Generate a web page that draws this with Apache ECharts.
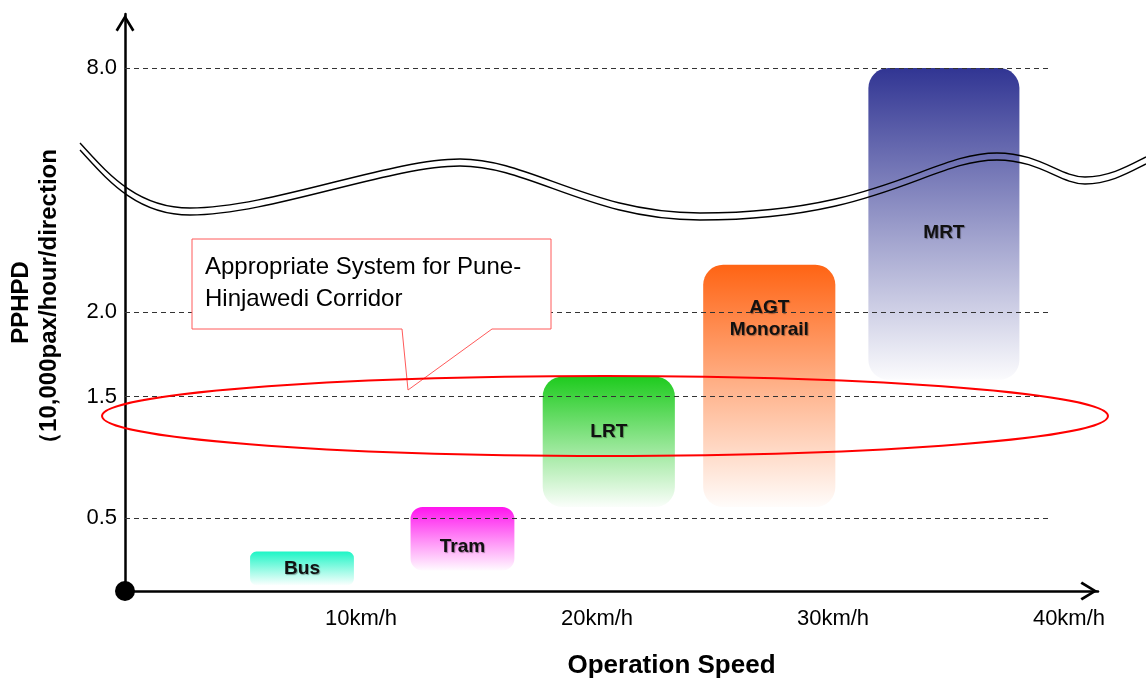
<!DOCTYPE html>
<html>
<head>
<meta charset="utf-8">
<script src="https://cdn.jsdelivr.net/npm/echarts@6/dist/echarts.min.js"></script>
<style>
html, body { margin: 0; padding: 0; background: #fff; }
#main { width: 1146px; height: 680px; }
</style>
</head>
<body>
<div id="main"></div>
<script>
// transit modes (speed range km/h, capacity range 10,000 pphpd)
var modeNames = ['Bus', 'Tram', 'LRT', 'AGT\nMonorail', 'MRT'];
var speedFrom = [5.3, 12.1, 17.7, 24.5, 31.5];
var speedTo = [9.7, 16.5, 23.3, 30.1, 37.9];
var pphpdFrom = [0.04, 0.14, 0.59, 0.59, 1.6];
var pphpdTo = [0.27, 0.59, 1.62, 3.16, 8.0];
var modeColors = ['#1ef5c6', '#ff14ee', '#1ecb1e', '#ff6414', '#313593'];

// y axis is not linear (broken between 2.0 and 8.0)
var yTickValues = [0, 0.5, 1.5, 2.0, 8.0];
var yTickLabels = ['', '0.5', '1.5', '2.0', '8.0'];
var yTickSteps = [0, 1, 2.66, 3.82, 7.16];

var xTickValues = [10, 20, 30, 40];
var xTickLabels = ['10km/h', '20km/h', '30km/h', '40km/h'];

var FONT = 'Arial, "Liberation Sans", sans-serif';

// map a pphpd value onto the uneven axis scale
function toStep(v) {
	for (var i = 1; i < yTickValues.length; i++) {
		if (v <= yTickValues[i] || i == yTickValues.length - 1) {
			var t = (v - yTickValues[i - 1]) / (yTickValues[i] - yTickValues[i - 1]);
			return yTickSteps[i - 1] + t * (yTickSteps[i] - yTickSteps[i - 1]);
		}
	}
}

// label nudges inside each box (px)
var labelShift = [0, 8, -10, -67, 9];

var arrowPath = 'path://M10,0 L20,16.3 L17.6,18 L10,5.2 L2.4,18 L0,16.3 Z';

// break mark: chain of cubic segments [x1,y1, cp1x,cp1y, cp2x,cp2y, x2,y2]
var waveSegs = [
	[80, 143, 105, 170, 135, 208, 190, 208],
	[190, 208, 270, 208, 390, 159, 460, 159],
	[460, 159, 530, 159, 590, 213, 700, 213],
	[700, 213, 880, 213, 930, 153, 997, 153],
	[997, 153, 1040, 153, 1060, 177, 1085, 177],
	[1085, 177, 1110, 177, 1130, 165, 1146, 157]
];

function waveLines() {
	var out = [];
	[0, 7].forEach(function (dy) {
		waveSegs.forEach(function (s) {
			out.push({
				type: 'bezierCurve',
				z: 60,
				shape: {
					x1: s[0], y1: s[1] + dy,
					cpx1: s[2], cpy1: s[3] + dy,
					cpx2: s[4], cpy2: s[5] + dy,
					x2: s[6], y2: s[7] + dy
				},
				style: { fill: null, stroke: '#000', lineWidth: 1.4 }
			});
		});
	});
	return out;
}

var boxData = [];
for (var i = 0; i < modeNames.length; i++) {
	boxData.push([speedFrom[i], speedTo[i], toStep(pphpdFrom[i]), toStep(pphpdTo[i]), i]);
}

var gridLines = [];
for (var i = 1; i < yTickSteps.length; i++) {
	gridLines.push([{ coord: [0, yTickSteps[i]] }, { coord: [39.2, yTickSteps[i]] }]);
}

function renderBox(params, api) {
	var i = api.value(4);
	var p1 = api.coord([api.value(0), api.value(3)]);
	var p2 = api.coord([api.value(1), api.value(2)]);
	var w = p2[0] - p1[0];
	var h = p2[1] - p1[1];
	var r = Math.min(20, h * 0.19);
	return {
		type: 'group',
		children: [{
			type: 'rect',
			shape: { x: p1[0], y: p1[1], width: w, height: h, r: r },
			style: {
				fill: {
					type: 'linear', x: 0, y: 0, x2: 0, y2: 1,
					colorStops: [
						{ offset: 0, color: modeColors[i] },
						{ offset: 0.55, color: echarts.color.modifyAlpha(modeColors[i], 0.45) },
						{ offset: 1, color: echarts.color.modifyAlpha(modeColors[i], 0.02) }
					]
				}
			}
		}, {
			type: 'text',
			style: {
				text: modeNames[i],
				x: p1[0] + w / 2,
				y: p1[1] + h / 2 + labelShift[i],
				align: 'center',
				verticalAlign: 'middle',
				font: 'bold 19px ' + FONT,
				lineHeight: 22,
				fill: '#111',
				textShadowColor: 'rgba(0,0,0,0.35)',
				textShadowOffsetX: 1,
				textShadowOffsetY: 1,
				textShadowBlur: 1
			}
		}]
	};
}

var myChart = echarts.init(document.getElementById('main'));

var option = {
	animation: false,
	backgroundColor: '#fff',
	grid: { left: 125, right: 48, top: 14, bottom: 89, outerBoundsMode: 'none', containLabel: false },
	xAxis: {
		type: 'value',
		min: 0,
		max: 41.23,
		axisLine: {
			lineStyle: { color: '#000', width: 2.5 },
			symbol: ['none', arrowPath],
			symbolSize: [19, 18],
			symbolOffset: [0, -9]
		},
		axisTick: { show: false },
		splitLine: { show: false },
		axisLabel: {
			customValues: xTickValues,
			formatter: function (v) {
				var k = xTickValues.indexOf(v);
				return k >= 0 ? xTickLabels[k] : '';
			},
			color: '#000',
			fontSize: 22,
			fontFamily: FONT,
			margin: 17
		},
		name: 'Operation Speed',
		nameLocation: 'middle',
		nameGap: 62,
		nameTextStyle: {
			color: '#000',
			fontSize: 26,
			fontWeight: 'bold',
			fontFamily: FONT,
			padding: [0, 0, 0, 120]
		}
	},
	yAxis: {
		type: 'value',
		min: 0,
		max: 7.9,
		axisLine: {
			lineStyle: { color: '#000', width: 2.5 },
			symbol: ['none', arrowPath],
			symbolSize: [19, 18],
			symbolOffset: [0, -9]
		},
		axisTick: { show: false },
		splitLine: { show: false },
		axisLabel: {
			customValues: yTickSteps.slice(1),
			formatter: function (v) {
				var best = 0;
				for (var k = 0; k < yTickSteps.length; k++) {
					if (Math.abs(yTickSteps[k] - v) < Math.abs(yTickSteps[best] - v)) best = k;
				}
				return yTickLabels[best];
			},
			color: '#000',
			fontSize: 22,
			fontFamily: FONT,
			margin: 8
		},
		name: 'PPHPD\n（10,000pax/hour/direction',
		nameLocation: 'middle',
		nameRotate: 90,
		nameGap: 62,
		nameTextStyle: {
			color: '#000',
			fontSize: 24,
			fontWeight: 'bold',
			fontFamily: FONT,
			lineHeight: 28
		}
	},
	graphic: [{
		type: 'polygon',
		z: 50,
		shape: { points: [[192, 239], [551, 239], [551, 329], [492, 329], [408, 390], [402, 329], [192, 329]] },
		style: { fill: '#fff', stroke: '#ff5a5a', lineWidth: 1 }
	}, {
		type: 'text',
		z: 51,
		x: 205,
		y: 251,
		style: {
			text: 'Appropriate System for Pune-\nHinjawedi Corridor',
			font: '24px ' + FONT,
			fill: '#000',
			lineHeight: 32
		}
	}, {
		type: 'ellipse',
		z: 52,
		shape: { cx: 605, cy: 416, rx: 503, ry: 40 },
		style: { fill: null, stroke: '#ff0000', lineWidth: 2 }
	}].concat(waveLines()),
	series: [{
		type: 'line',
		z: 1,
		data: [],
		markLine: {
			silent: true,
			symbol: ['none', 'none'],
			label: { show: false },
			lineStyle: { color: '#333', width: 1, type: [5, 4] },
			data: gridLines
		}
	}, {
		type: 'custom',
		z: 3,
		renderItem: renderBox,
		encode: { x: [0, 1], y: [2, 3] },
		data: boxData
	}, {
		type: 'scatter',
		z: 10,
		clip: false,
		symbolSize: 20,
		itemStyle: { color: '#000', opacity: 1 },
		data: [[0, 0]]
	}]
};

myChart.setOption(option);

window.addEventListener('resize', function () {
	myChart.resize();
});
</script>
</body>
</html>
